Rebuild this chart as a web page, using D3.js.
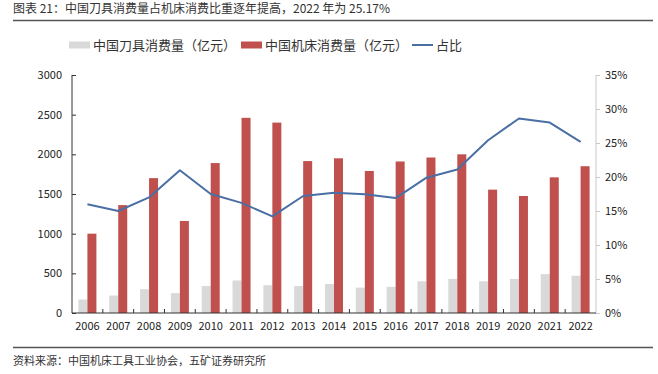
<!DOCTYPE html>
<html>
<head>
<meta charset="utf-8">
<script src="https://cdn.jsdelivr.net/npm/d3@7"></script>
<style>
  body { margin: 0; background: #fff; }
  text { font-family: "Noto Sans CJK SC", "Liberation Sans", Arial, sans-serif; }
</style>
</head>
<body>
<div id="chart"></div>
<script>
var years = ["2006","2007","2008","2009","2010","2011","2012","2013","2014","2015","2016","2017","2018","2019","2020","2021","2022"];
var tools = [170, 220, 300, 250, 340, 410, 350, 340, 365, 320, 330, 400, 430, 400, 430, 490, 470];
var machines = [1000, 1360, 1700, 1160, 1890, 2460, 2400, 1915, 1950, 1790, 1910, 1960, 2000, 1555, 1475, 1710, 1850];
var share = [16.0, 15.0, 17.0, 21.0, 17.5, 16.2, 14.2, 17.2, 17.7, 17.45, 16.9, 19.9, 21.1, 25.4, 28.6, 28.0, 25.17];
var leftTicks = [0, 500, 1000, 1500, 2000, 2500, 3000];
var rightTicks = [0, 5, 10, 15, 20, 25, 30, 35];

var W = 658, H = 374;
var margin = {top: 75, right: 62, bottom: 61, left: 72};
var width = W - margin.left - margin.right,
    height = H - margin.top - margin.bottom;

var svg = d3.select("#chart").append("svg")
  .attr("width", W)
  .attr("height", H);

// title + rules
svg.append("text")
  .attr("x", 13).attr("y", 13)
  .attr("font-size", 12).attr("fill", "#333")
  .text("图表 21：中国刀具消费量占机床消费比重逐年提高，2022 年为 25.17%");
svg.append("line")
  .attr("x1", 13).attr("x2", 653).attr("y1", 20.5).attr("y2", 20.5)
  .attr("stroke", "#555").attr("stroke-width", 1.5);
svg.append("line")
  .attr("x1", 13).attr("x2", 653).attr("y1", 347.5).attr("y2", 347.5)
  .attr("stroke", "#555").attr("stroke-width", 1.5);
svg.append("text")
  .attr("x", 13).attr("y", 365)
  .attr("font-size", 11).attr("fill", "#333")
  .text("资料来源：中国机床工具工业协会，五矿证券研究所");

// legend
var legend = [
  {label: "中国刀具消费量（亿元）", color: "#d9d9d9", type: "rect", x: 69},
  {label: "中国机床消费量（亿元）", color: "#c0504d", type: "rect", x: 241},
  {label: "占比", color: "#4a6fa5", type: "line", x: 412}
];
var lg = svg.append("g").selectAll("g").data(legend).join("g")
  .attr("transform", d => "translate(" + d.x + ",45)");
lg.filter(d => d.type == "rect").append("rect")
  .attr("x", 0).attr("y", -3.5).attr("width", 21).attr("height", 7)
  .attr("fill", d => d.color);
lg.filter(d => d.type == "line").append("line")
  .attr("x1", 0).attr("x2", 21).attr("y1", 0).attr("y2", 0)
  .attr("stroke", d => d.color).attr("stroke-width", 2);
lg.append("text")
  .attr("x", 24).attr("y", 0).attr("dy", "0.36em")
  .attr("font-size", 13).attr("fill", "#333")
  .text(d => d.label);

var g = svg.append("g")
  .attr("transform", "translate(" + margin.left + "," + margin.top + ")");

var x = d3.scaleBand().domain(years).range([0, width]);
var y = d3.scaleLinear().domain([0, 3000]).range([height, 0]);
var y2 = d3.scaleLinear().domain([0, 35]).range([height, 0]);
var bw = 9;

// bars
g.append("g").selectAll("rect").data(years).join("rect")
  .attr("x", (d) => x(d) + x.bandwidth() / 2 - bw)
  .attr("y", (d, i) => y(tools[i]))
  .attr("width", bw)
  .attr("height", (d, i) => height - y(tools[i]))
  .attr("fill", "#d9d9d9");

g.append("g").selectAll("rect").data(years).join("rect")
  .attr("x", (d) => x(d) + x.bandwidth() / 2)
  .attr("y", (d, i) => y(machines[i]))
  .attr("width", bw)
  .attr("height", (d, i) => height - y(machines[i]))
  .attr("fill", "#c0504d");

// line
var line = d3.line()
  .x((d, i) => x(years[i]) + x.bandwidth() / 2)
  .y(d => y2(d));
g.append("path")
  .datum(share)
  .attr("fill", "none")
  .attr("stroke", "#4a6fa5")
  .attr("stroke-width", 2)
  .attr("stroke-linejoin", "round")
  .attr("d", line);

// left axis
var yAxis = g.append("g")
  .call(d3.axisLeft(y).tickValues(leftTicks).tickSize(-4).tickPadding(10).tickFormat(d3.format("d")));
yAxis.select(".domain").attr("stroke", "#333").attr("d", "M0,0V" + height);
yAxis.selectAll(".tick line").attr("stroke", "#333");
yAxis.selectAll("text").attr("font-size", 11).attr("fill", "#222")
  .attr("font-family", "'Liberation Sans', Arial, sans-serif");

// right axis
var y2Axis = g.append("g")
  .attr("transform", "translate(" + width + ",0)")
  .call(d3.axisRight(y2).tickValues(rightTicks).tickSize(4).tickPadding(5).tickFormat(d => d + "%"));
y2Axis.select(".domain").attr("stroke", "#c8c8c8").attr("d", "M0,0V" + height);
y2Axis.selectAll(".tick line").attr("stroke", "#c8c8c8");
y2Axis.selectAll("text").attr("font-size", 11).attr("fill", "#222")
  .attr("font-family", "'Liberation Sans', Arial, sans-serif");

// x axis
var xAxis = g.append("g")
  .attr("transform", "translate(0," + height + ")")
  .call(d3.axisBottom(x).tickSize(0).tickPadding(9));
xAxis.select(".domain").attr("stroke", "#333").attr("d", "M0,0H" + width);
xAxis.selectAll("text").attr("font-size", 11).attr("fill", "#222")
  .attr("font-family", "'Liberation Sans', Arial, sans-serif");
// separators between categories
g.append("g").selectAll("line").data(years.slice(1)).join("line")
  .attr("x1", d => x(d)).attr("x2", d => x(d))
  .attr("y1", height).attr("y2", height - 4)
  .attr("stroke", "#333");
</script>
</body>
</html>
